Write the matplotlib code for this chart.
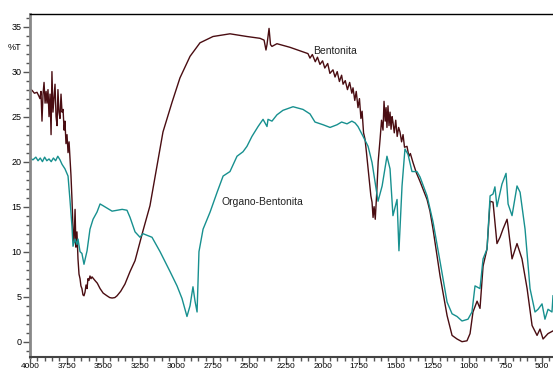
"""
FTIR spectra: Bentonita vs Organo-Bentonita (%T against wavenumber).
"""

import matplotlib
matplotlib.use("Agg")
import matplotlib.pyplot as plt
from matplotlib.ticker import MultipleLocator

# Wavenumber (cm-1) and transmittance (%T)
bent_wn = [4000, 3985, 3970, 3952, 3940, 3932, 3925, 3918, 3911, 3904,
           3897, 3890, 3884, 3877, 3870, 3863, 3856, 3850, 3843, 3836,
           3829, 3822, 3815, 3809, 3802, 3795, 3788, 3781, 3774, 3767,
           3761, 3754, 3747, 3740, 3733, 3727, 3720, 3713, 3706, 3699,
           3692, 3686, 3679, 3672, 3665, 3658, 3652, 3645, 3638, 3631,
           3624, 3617, 3610, 3604, 3597, 3590, 3583, 3576, 3566, 3556,
           3540, 3521, 3500, 3474, 3455, 3439, 3420, 3405, 3380, 3351,
           3316, 3282, 3228, 3180, 3132, 3091, 3029, 2975, 2906, 2838,
           2749, 2633, 2517, 2428, 2400, 2387, 2380, 2366, 2356, 2346,
           2312, 2223, 2154, 2100, 2086, 2070, 2050, 2035, 2018, 2000,
           1985, 1965, 1950, 1929, 1915, 1900, 1885, 1870, 1860, 1845,
           1830, 1815, 1800, 1792, 1780, 1770, 1758, 1748, 1738, 1730,
           1720, 1710, 1700, 1689, 1680, 1670, 1662, 1655, 1648, 1640,
           1630, 1620, 1607, 1597, 1587, 1580, 1572, 1566, 1560, 1553,
           1546, 1539, 1532, 1525, 1519, 1510, 1500, 1490, 1480, 1471,
           1460, 1450, 1440, 1423, 1410, 1400, 1382, 1360, 1334, 1310,
           1286, 1266, 1245, 1197, 1149, 1115, 1081, 1047, 1013, 992,
           972, 944, 924, 903, 876, 855, 835, 808, 787, 767,
           739, 732, 705, 671, 637, 602, 568, 534, 514, 493,
           459, 425]
bent_t = [28.1, 27.9, 27.6, 27.7, 27.3, 27.0, 27.8, 24.5, 27.5, 28.8,
          26.5, 27.8, 26.5, 28.0, 25.0, 27.5, 23.0, 30.0, 25.5, 27.0,
          28.6, 25.0, 24.0, 28.0, 25.5, 24.8, 27.5, 25.5, 25.8, 23.5,
          24.5, 22.0, 23.0, 21.0, 22.2, 20.5, 18.5, 15.8, 12.5, 11.0,
          14.7, 10.5, 12.2, 9.2, 7.5, 7.0, 6.2, 5.9, 5.2, 5.1,
          5.5, 6.3, 5.9, 7.0, 6.8, 7.3, 7.0, 7.2, 7.0, 6.8,
          6.5, 5.9, 5.4, 5.1, 4.9, 4.85, 4.9, 5.1, 5.6, 6.4,
          7.8, 9.0, 12.3, 15.1, 19.5, 23.3, 26.6, 29.3, 31.7, 33.2,
          33.9, 34.2, 33.9, 33.7, 33.5, 32.4, 33.0, 34.8, 33.0, 32.8,
          33.1, 32.7, 32.3, 32.0, 31.5, 31.9, 31.1, 31.6, 30.8, 31.2,
          30.4, 30.9, 29.8, 30.2, 29.4, 30.0, 28.9, 29.6, 28.6, 29.0,
          28.0, 28.8, 27.6, 28.2, 26.8, 27.8, 26.0, 27.0, 24.8, 25.6,
          23.2, 22.5, 21.0, 19.2, 17.8, 16.2, 15.5, 13.8, 15.0, 13.6,
          16.5, 20.0, 22.5, 24.6, 23.5, 26.7, 24.5, 26.0, 23.8, 26.2,
          24.0, 25.5, 23.6, 25.0, 24.4, 23.2, 24.6, 22.8, 23.8, 23.3,
          22.2, 23.0, 21.6, 21.7, 20.6, 20.9, 19.9, 18.8, 17.8, 16.8,
          15.8, 14.5, 12.5, 7.3, 2.9, 0.7, 0.3, 0.0, 0.1, 0.9,
          3.3, 4.5, 3.7, 8.4, 10.3, 15.6, 15.5, 10.9, 11.6, 12.5,
          13.6, 12.8, 9.2, 10.9, 9.2, 5.9, 1.8, 0.7, 1.4, 0.3,
          0.9, 1.2]

org_wn = [4000, 3980, 3960, 3945, 3930, 3915, 3900, 3885, 3870, 3855,
          3840, 3825, 3810, 3795, 3781, 3761, 3740, 3727, 3713, 3706,
          3692, 3679, 3672, 3658, 3645, 3631, 3610, 3590, 3569, 3542,
          3521, 3500, 3439, 3370, 3337, 3316, 3282, 3248, 3228, 3166,
          3111, 3043, 2995, 2961, 2927, 2906, 2886, 2872, 2858, 2845,
          2817, 2769, 2721, 2680, 2633, 2585, 2544, 2517, 2483, 2441,
          2407, 2380, 2373, 2346, 2312, 2271, 2202, 2134, 2086, 2052,
          1997, 1949, 1901, 1870, 1833, 1800, 1778, 1758, 1723, 1689,
          1662, 1641, 1621, 1593, 1560, 1539, 1519, 1491, 1478, 1457,
          1437, 1416, 1389, 1355, 1334, 1286, 1245, 1197, 1149, 1115,
          1081, 1047, 1006, 979, 958, 924, 903, 876, 855, 835,
          822, 808, 774, 746, 732, 705, 671, 650, 616, 582,
          548, 527, 500, 480, 459, 432, 425]
org_t = [20.4, 20.2, 20.5, 20.1, 20.4, 20.0, 20.5, 20.1, 20.3, 20.0,
         20.4, 20.1, 20.6, 20.2, 19.7, 19.2, 18.4, 15.8, 12.8, 10.6,
         11.4, 10.8, 11.4, 10.0, 9.8, 8.6, 10.1, 12.5, 13.6, 14.4,
         15.3, 15.1, 14.5, 14.7, 14.6, 13.8, 12.2, 11.6, 12.0, 11.6,
         10.0, 7.8, 6.2, 4.8, 2.8, 4.0, 6.1, 4.5, 3.3, 10.0,
         12.5, 14.4, 16.6, 18.4, 18.9, 20.6, 21.1, 21.7, 22.8, 23.9,
         24.7, 23.9, 24.7, 24.5, 25.2, 25.7, 26.1, 25.8, 25.3, 24.4,
         24.1, 23.8, 24.1, 24.4, 24.2, 24.5, 24.3, 23.9, 22.8, 21.7,
         19.9, 17.7, 15.6, 17.3, 20.6, 19.2, 14.0, 15.8, 10.1, 17.3,
         21.4, 20.8, 18.9, 18.9, 18.3, 16.2, 13.3, 8.9, 4.4, 3.1,
         2.8, 2.3, 2.5, 3.3, 6.2, 5.9, 9.2, 10.3, 16.2, 16.4,
         17.2, 15.0, 17.5, 18.7, 15.3, 14.0, 17.3, 16.6, 12.5, 5.9,
         3.3, 3.6, 4.2, 2.5, 3.6, 3.3, 5.1]

xticks = [4000, 3750, 3500, 3250, 3000, 2750, 2500, 2250, 2000, 1750,
          1500, 1250, 1000, 750, 500]
yticks = [0, 5, 10, 15, 20, 25, 30, 35]

plt.rcParams["font.family"] = ["Liberation Sans Narrow", "Liberation Sans", "DejaVu Sans"]

fig = plt.figure(figsize=(5.53, 3.72), dpi=100)
ax = fig.add_axes([30 / 553, 15 / 372, 523 / 553, 343 / 372])

ax.plot(bent_wn, bent_t, color="#4a0d12", lw=1.0)
ax.plot(org_wn, org_t, color="#17908f", lw=1.0)

ax.set_xlim(4000, 425)
ax.set_ylim(-1.7, 36.4)

ax.set_xticks(xticks)
ax.set_yticks(yticks)
ax.xaxis.set_minor_locator(MultipleLocator(50))
ax.yaxis.set_minor_locator(MultipleLocator(1))
ax.tick_params(which="major", direction="out", length=5, width=1,
               color="#555555", labelsize=6.5, pad=1)
ax.tick_params(axis="x", which="major", length=4, labelsize=6, pad=0.5)
ax.tick_params(which="minor", direction="out", length=3, width=1,
               color="#555555")

ax.spines["right"].set_visible(False)
ax.spines["top"].set_linewidth(1.0)
ax.spines["left"].set_color("#888888")
ax.spines["left"].set_linewidth(2.0)
ax.spines["bottom"].set_color("#444444")
ax.spines["bottom"].set_linewidth(1.5)

ax.text(2065, 32.3, "Bentonita", fontsize=7.5, va="center",
        family=["Liberation Sans", "DejaVu Sans"], color="#222222")
ax.text(2694, 15.5, "Organo-Bentonita", fontsize=7.5, va="center",
        family=["Liberation Sans", "DejaVu Sans"], color="#222222")
fig.text(14 / 553, 1 - 48 / 372, "%T", fontsize=6.5, ha="center", va="center")

plt.savefig("out.png", dpi=100)
